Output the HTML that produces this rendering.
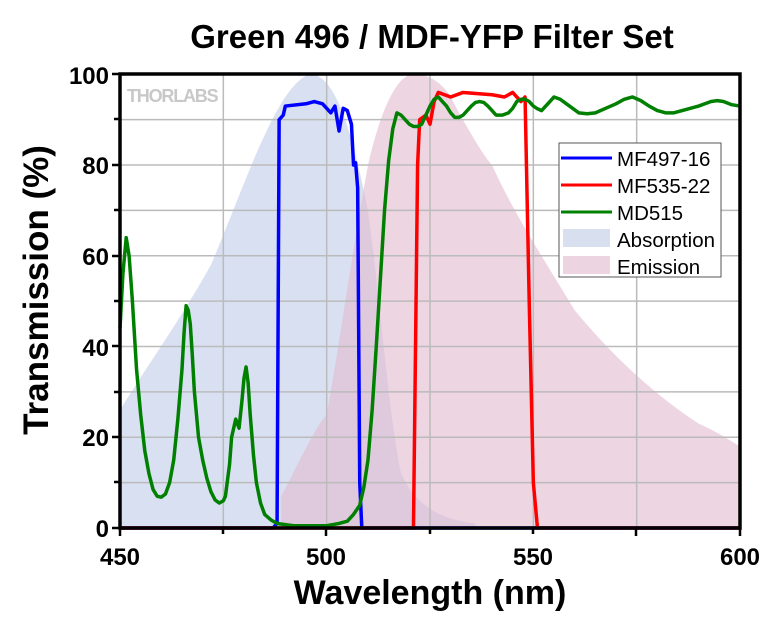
<!DOCTYPE html>
<html><head><meta charset="utf-8"><style>body{margin:0;background:#fff}svg{display:block}text{font-family:"Liberation Sans",Arial,sans-serif}</style></head>
<body>
<svg width="780" height="630" viewBox="0 0 780 630">
<text x="432" y="48" font-size="33" font-weight="bold" text-anchor="middle">Green 496 / MDF-YFP Filter Set</text>
<g transform="translate(120,528) scale(4.13333,-4.537)">
<path d="M0,26 C6,35 14,45 22,58 C30,75 38,98 46,100 C52,100 56,88 60,70 C63,50 65,25 68,12 C71,6 76,2 86,1 L86,0 L0,0 Z" fill="#c3d0ea" fill-opacity="0.65"/>
<path d="M39,0 L39,7 C42,12 47,22 50,25 C53,40 56,60 60,80 C63,92 67,100 71,100 C75,100 78,98 80,95 C84,88 88,82 90,80 C95,70 100,63 110,48 C120,37 130,29 140,23 C145,21 148,19 150,18 L150,0 Z" fill="#e4bfd2" fill-opacity="0.65"/>
<g stroke="#bbb" stroke-width="1.5" fill="none">
<path d="M25,0V100M50,0V100M75,0V100M100,0V100M125,0V100M0,10H150M0,20H150M0,30H150M0,40H150M0,50H150M0,60H150M0,70H150M0,80H150M0,90H150" vector-effect="non-scaling-stroke"/>
</g>
<g fill="none" stroke-width="3.5" stroke-linejoin="round">
<polyline vector-effect="non-scaling-stroke" stroke="#0000ff" points="0,0 37,0 38,1 38.5,90 39.5,91 40,93 45,93.5 47,94 49,93.5 51,91.5 52,93 53,87.5 54,92.5 55,92 56,89 56.5,80 57,80.5 57.5,75 58,10 58.5,0 150,0"/>
<polyline vector-effect="non-scaling-stroke" stroke="#ff0000" points="0,0 71,0 72,80 72.5,90 74,91 75,89 76,94 77,96 80,95 83,96 90,95.5 93,95 95,96 97,94 98,95 99,50 100,10 101,0 150,0"/>
<polyline vector-effect="non-scaling-stroke" stroke="#008000" points="0,44 0.7,56 1.5,64 2.2,60 3,50 4,35 5,25 6,17 7,12 8,8.5 9,7 10,6.8 11,7.5 12,10 13,15 14,24 15,35 15.5,43 16,49 16.5,48 17,45 17.5,38 18,30 19,20 20,15 21,11 22,8 23,6.2 24,5.5 25,6 25.5,7 26.5,14 27,20 28,24 28.8,22 29.5,28 30,33 30.5,35.5 31,32 31.5,25 32.3,16 33,10 34,5.5 35,3 36.5,1.8 38,1 42,0.5 50,0.5 53,1 55,1.5 56.5,3 58,5 59,9 60,15 61,26 62,40 63,55 64,70 65,81 66,88 67,91.5 68,91 69,90 70,89 71,88.5 72,88.5 73,89 74,91 75,93 76,94.5 77,95 78,94 79,93 80,91.5 81,90.5 82,90.5 83,91 84,92 85,93 86,93.8 87,94 88,93.8 89,93 90,92 91,91 92.5,91 94,91.5 95,92.5 96,94 97,94.5 98,94.5 99,94 100,93 101,92.4 102,92 103,93 104,94 105,95 106.5,94.5 108,93.5 109.5,92.5 111,91.5 113,91.3 115,91.5 117.5,92.5 120,93.5 122,94.5 124,95 126,94.2 128,93 130,92 132,91.5 134,91.5 136,92 138,92.5 140,93 141.5,93.5 143,94 144.5,94.2 146,94 148,93.3 150,93"/>
</g>
</g>
<text x="127" y="102" font-size="18" font-weight="bold" fill="#c8c8c8" letter-spacing="-1.2">THORLABS</text>
<g stroke="#000" stroke-width="3.5" fill="none">
<rect x="120" y="74" width="620" height="454"/>
</g>
<g stroke="#000" stroke-width="2.5">
<path d="M120,528v8M223,528v6M326,528v8M430,528v6M533,528v6M636,528v8M740,528v8M120,528h-8M120,482h-6M120,437h-8M120,392h-6M120,346h-8M120,301h-6M120,256h-8M120,210h-6M120,165h-8M120,119h-6M120,74h-8"/>
</g>
<g font-size="24" font-weight="bold" text-anchor="end">
<text x="109" y="537">0</text><text x="109" y="446">20</text><text x="109" y="356">40</text><text x="109" y="265">60</text><text x="109" y="174">80</text><text x="109" y="84">100</text>
</g>
<g font-size="24" font-weight="bold" text-anchor="middle">
<text x="120" y="565">450</text><text x="326" y="565">500</text><text x="533" y="565">550</text><text x="740" y="565">600</text>
</g>
<text x="430" y="604" font-size="34" font-weight="bold" text-anchor="middle">Wavelength (nm)</text>
<text transform="translate(48,290) rotate(-90)" font-size="35" font-weight="bold" text-anchor="middle">Transmission (%)</text>
<rect x="559" y="143" width="162" height="134" fill="#fff" stroke="#555" stroke-width="1"/>
<g stroke-width="3"><line x1="561" y1="158" x2="612" y2="158" stroke="#0000ff"/><line x1="561" y1="185" x2="612" y2="185" stroke="#ff0000"/><line x1="561" y1="212" x2="612" y2="212" stroke="#008000"/></g>
<rect x="563" y="229" width="47" height="18" fill="#d8e0f0"/><rect x="563" y="256" width="47" height="18" fill="#ecd4e0"/>
<g font-size="20.5"><text x="617" y="166">MF497-16</text><text x="617" y="193">MF535-22</text><text x="617" y="220">MD515</text><text x="617" y="247">Absorption</text><text x="617" y="274">Emission</text></g>
</svg>
</body></html>
